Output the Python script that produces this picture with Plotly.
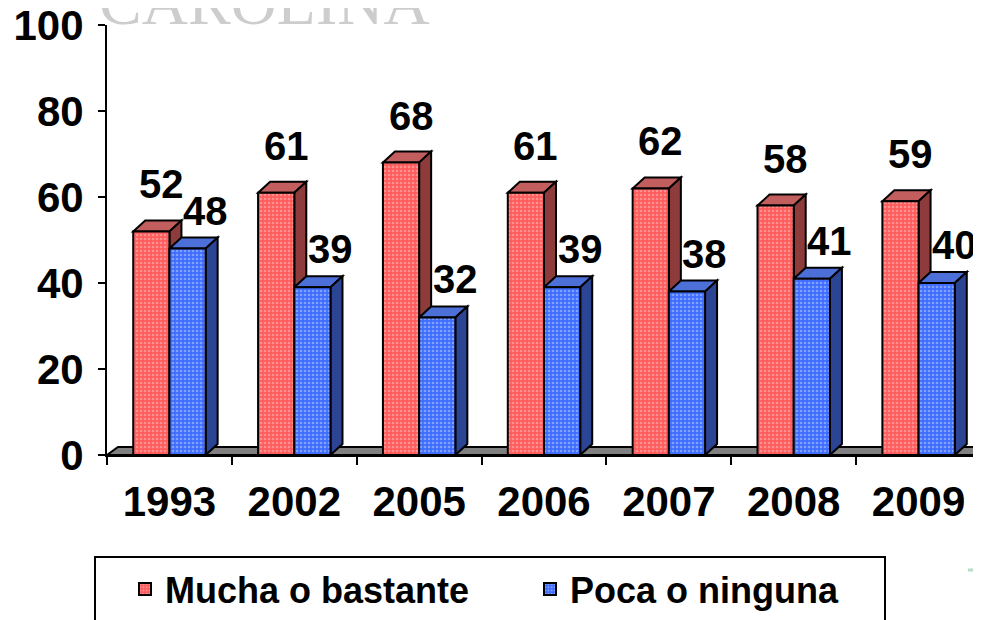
import plotly.graph_objects as go

# ---------------- data ----------------
years = ["1993", "2002", "2005", "2006", "2007", "2008", "2009"]
mucha = [52, 61, 68, 61, 62, 58, 59]      # Mucha o bastante
poca = [48, 39, 32, 39, 38, 41, 40]       # Poca o ninguna
y_ticks = [0, 20, 40, 60, 80, 100]
series_names = ["Mucha o bastante", "Poca o ninguna"]
watermark = "CAROLINA"

# ---------------- geometry / style ----------------
OFF = 8                            # page body margin of the browser
W, H = 981 - OFF, 620 - OFF
ML, MT = 107 - OFF, 25 - OFF
PW = W - ML
PH = 430
MR, MB = 0, H - MT - PH
PX_CAT = PW / len(years)          # px per category unit
PX_Y = PH / 100.0                 # px per y unit
BAR_W = 0.29
DX = 12 / PX_CAT                  # 3D depth offsets (data units)
DY = 11 / PX_Y
FDX = 11 / PX_CAT                 # floor depth
FDY = 8 / PX_Y


def px_x(px):
    """screen pixel -> paper x"""
    return (px - OFF - ML) / PW


def px_y(py):
    """screen pixel -> paper y"""
    return (MT + PH - (py - OFF)) / PH


FONT = "Arial, Liberation Sans, sans-serif"
RED, RED_DOT, RED_TOP, RED_SIDE = "#ff5c5c", "#ffc4c4", "#c25e5e", "#8e3b3b"
BLU, BLU_DOT, BLU_TOP, BLU_SIDE = "#3e6cff", "#c3d5ff", "#4d6fd8", "#2c4494"

fig = go.Figure()

fig.add_trace(go.Bar(
    x=years, y=mucha, name=series_names[0], offset=-BAR_W, width=BAR_W,
    marker=dict(color=RED, line=dict(color="black", width=2),
                pattern=dict(shape=".", fgcolor=RED_DOT, bgcolor=RED, size=4, solidity=0.35)),
    hoverinfo="x+y"))
fig.add_trace(go.Bar(
    x=years, y=poca, name=series_names[1], offset=0, width=BAR_W,
    marker=dict(color=BLU, line=dict(color="black", width=2),
                pattern=dict(shape=".", fgcolor=BLU_DOT, bgcolor=BLU, size=4, solidity=0.35)),
    hoverinfo="x+y"))

shapes = []
n = len(years)
# floor
shapes.append(dict(type="path", xref="x", yref="y", layer="below",
                   path=f"M {-0.5},0 L {n - 0.5 + 0.2},0 L {n - 0.5 + 0.2 + FDX},{FDY} L {-0.5 + FDX},{FDY} Z",
                   fillcolor="#808080", line=dict(color="black", width=2)))


def faces(x0, x1, v, top, side):
    out = []
    out.append(dict(type="path", xref="x", yref="y", layer="below",
                    path=f"M {x0},{v} L {x1},{v} L {x1 + DX},{v + DY} L {x0 + DX},{v + DY} Z",
                    fillcolor=top, line=dict(color="black", width=2)))
    out.append(dict(type="path", xref="x", yref="y", layer="below",
                    path=f"M {x1},0 L {x1 + DX},{DY} L {x1 + DX},{v + DY} L {x1},{v} Z",
                    fillcolor=side, line=dict(color="black", width=2)))
    return out


for i in range(n):
    shapes += faces(i - BAR_W, i, mucha[i], RED_TOP, RED_SIDE)
for i in range(n):
    shapes += faces(i, i + BAR_W, poca[i], BLU_TOP, BLU_SIDE)

# legend frame
shapes.append(dict(type="rect", xref="paper", yref="paper", layer="above",
                   x0=px_x(95), x1=px_x(885), y0=px_y(557), y1=px_y(640),
                   line=dict(color="black", width=2), fillcolor="rgba(0,0,0,0)"))
# small decorative line at right
shapes.append(dict(type="line", xref="paper", yref="paper",
                   x0=px_x(968), x1=1.0, y0=px_y(570), y1=px_y(570),
                   line=dict(color="#b9dcc9", width=3)))

annotations = []
# watermark text (partially cut off at top)
annotations.append(dict(xref="paper", yref="paper", x=px_x(432), y=px_y(40),
                        xanchor="right", yanchor="bottom", showarrow=False,
                        text=watermark,
                        font=dict(family="Liberation Serif, Times New Roman, serif", size=64, color="#cdcdcd")))
for i in range(n):
    annotations.append(dict(x=i - BAR_W / 2 + 10 / PX_CAT, y=mucha[i], xref="x", yref="y",
                            yanchor="middle", yshift=47, showarrow=False, text=str(mucha[i]),
                            font=dict(family=FONT, size=40, color="black", weight="bold")))
    annotations.append(dict(x=i + BAR_W / 2 + 18 / PX_CAT, y=poca[i], xref="x", yref="y",
                            yanchor="middle", yshift=38, showarrow=False, text=str(poca[i]),
                            font=dict(family=FONT, size=40, color="black", weight="bold")))

fig.update_layout(
    width=W, height=H,
    margin=dict(l=ML, r=MR, t=MT, b=MB, autoexpand=False),
    paper_bgcolor="white", plot_bgcolor="white",
    barmode="overlay",
    shapes=shapes, annotations=annotations,
    showlegend=True,
    legend=dict(orientation="h", x=px_x(125), y=px_y(559),
                xanchor="left", yanchor="top", bgcolor="rgba(0,0,0,0)", borderwidth=0,
                entrywidth=360, entrywidthmode="pixels",
                font=dict(family=FONT, size=36, color="black", weight="bold")),
    xaxis=dict(type="category", range=[-0.5, n - 0.5], tickson="boundaries",
               ticks="outside", ticklen=8, tickwidth=2, tickcolor="black",
               showline=True, linecolor="black", linewidth=2, showgrid=False, zeroline=False,
               ticklabelstandoff=9, automargin=False, ticklabeloverflow="allow",
               tickfont=dict(family=FONT, size=42, color="black", weight="bold")),
    yaxis=dict(range=[0, 100], tickvals=y_ticks, ticks="outside", ticklen=7, tickwidth=2,
               tickcolor="black", showline=True, linecolor="black", linewidth=2,
               showgrid=False, zeroline=False, ticklabelstandoff=6, automargin=False,
               ticklabeloverflow="allow",
               tickfont=dict(family=FONT, size=42, color="black", weight="bold")),
)

fig.write_html("out.html")
